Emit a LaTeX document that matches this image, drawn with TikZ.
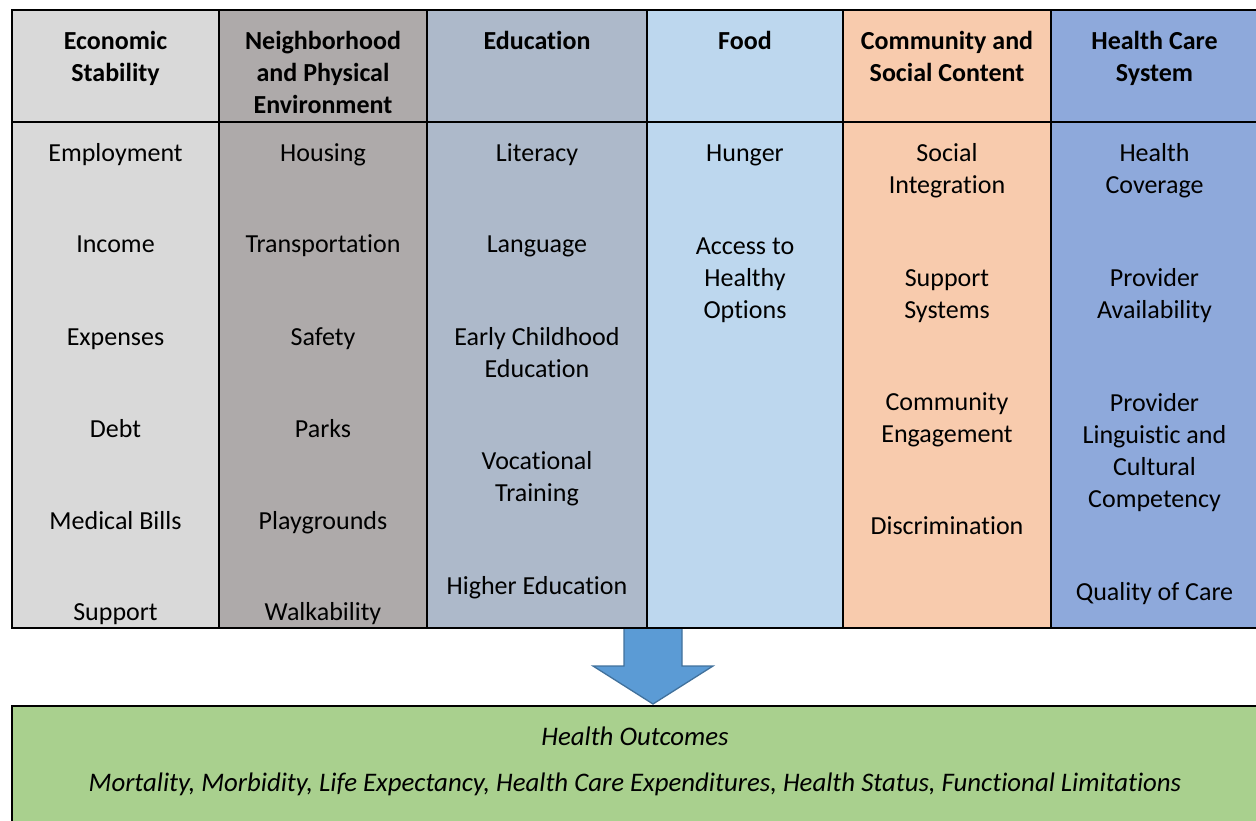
\documentclass[tikz,border=0pt]{standalone}
\usepackage{fontspec}
\setmainfont{Carlito}[Ligatures=CommonOff]
\usepackage{tikz}
\definecolor{econ}{HTML}{D9D9D9}
\definecolor{neigh}{HTML}{AEAAAA}
\definecolor{educ}{HTML}{ADB9CA}
\definecolor{food}{HTML}{BDD7EE}
\definecolor{comm}{HTML}{F8CBAD}
\definecolor{care}{HTML}{8EA9DB}
\definecolor{outc}{HTML}{A9D08E}
\definecolor{arrowfill}{HTML}{5B9BD5}
\definecolor{arrowline}{HTML}{41719C}
% base anchor of a multi-line node sits on its last line
\tikzstyle{item}=[inner sep=0pt,align=center,anchor=base,font=\fontsize{26}{32}\selectfont]
\tikzstyle{head}=[item,font=\fontsize{26}{32}\selectfont\bfseries]
\tikzstyle{outcome}=[item,font=\fontsize{26.8}{32}\selectfont\itshape]
\tikzstyle{rule}=[line width=2pt]
\begin{document}
\begin{tikzpicture}[x=1pt,y=-1pt]
    \useasboundingbox (0,0) rectangle (1256,821);
    % column backgrounds
    \fill [econ]  (12,10)   rectangle (219,628);
    \fill [neigh] (219,10)  rectangle (427,628);
    \fill [educ]  (427,10)  rectangle (647,628);
    \fill [food]  (647,10)  rectangle (843,628);
    \fill [comm]  (843,10)  rectangle (1051,628);
    \fill [care]  (1051,10) rectangle (1258,628);
    % arrow down to the outcomes
    \draw [arrowline, fill=arrowfill, line width=1.3pt, line join=miter]
        (624,628) -- (682,628) -- (682,666) -- (713,666) -- (653,704)
        -- (593,666) -- (624,666) -- cycle;
    % grid
    \draw [rule] (12,10) rectangle (1258,628);
    \draw [rule] (12,122) -- (1258,122);
    \draw [rule] (219,10) -- (219,628);
    \draw [rule] (427,10) -- (427,628);
    \draw [rule] (647,10) -- (647,628);
    \draw [rule] (843,10) -- (843,628);
    \draw [rule] (1051,10) -- (1051,628);
    % headers
    \node [head] (hecon)  at (115.5,82) {Economic\\Stability};
    \node [head] (hneigh) at (323,114)  {Neighborhood\\and Physical\\Environment};
    \node [head] (heduc)  at (537,50)   {Education};
    \node [head] (hfood)  at (745,50)   {Food};
    \node [head] (hcomm)  at (947,82)   {Community and\\Social Content};
    \node [head] (hcare)  at (1154.5,82) {Health Care\\System};
    % economic stability
    \node [item] (employ)  at (115.5,162) {Employment};
    \node [item] (income)  at (115.5,253) {Income};
    \node [item] (expense) at (115.5,345) {Expenses};
    \node [item] (debt)    at (115.5,437) {Debt};
    \node [item] (bills)   at (115.5,529) {Medical Bills};
    \node [item] (support) at (115.5,620) {Support};
    % neighborhood
    \node [item] (housing) at (323,162) {Housing};
    \node [item] (transp)  at (323,253) {Transportation};
    \node [item] (safety)  at (323,345) {Safety};
    \node [item] (parks)   at (323,437) {Parks};
    \node [item] (play)    at (323,529) {Playgrounds};
    \node [item] (walk)    at (323,620) {Walkability};
    % education
    \node [item] (literacy) at (537,162) {Literacy};
    \node [item] (language) at (537,253) {Language};
    \node [item] (early)    at (537,377) {Early Childhood\\Education};
    \node [item] (vocation) at (537,501) {Vocational\\Training};
    \node [item] (higher)   at (537,594) {Higher Education};
    % food
    \node [item] (hunger) at (745,162) {Hunger};
    \node [item] (access) at (745,318) {Access to\\Healthy\\Options};
    % community
    \node [item] (integr)  at (947,194) {Social\\Integration};
    \node [item] (systems) at (947,318) {Support\\Systems};
    \node [item] (engage)  at (947,442) {Community\\Engagement};
    \node [item] (discrim) at (947,534) {Discrimination};
    % health care
    \node [item] (cover)    at (1154.5,194) {Health\\Coverage};
    \node [item] (avail)    at (1154.5,318) {Provider\\Availability};
    \node [item] (compet)   at (1154.5,507) {Provider\\Linguistic and\\Cultural\\Competency};
    \node [item] (quality)  at (1154.5,600) {Quality of Care};
    % outcomes
    \draw [rule, fill=outc] (12,706) rectangle (1258,840);
    \node [outcome] (outtitle) at (635,745) {Health Outcomes};
    \node [outcome] (outlist)  at (635,791) {Mortality, Morbidity, Life Expectancy, Health Care Expenditures, Health Status, Functional Limitations};
\end{tikzpicture}
\end{document}
